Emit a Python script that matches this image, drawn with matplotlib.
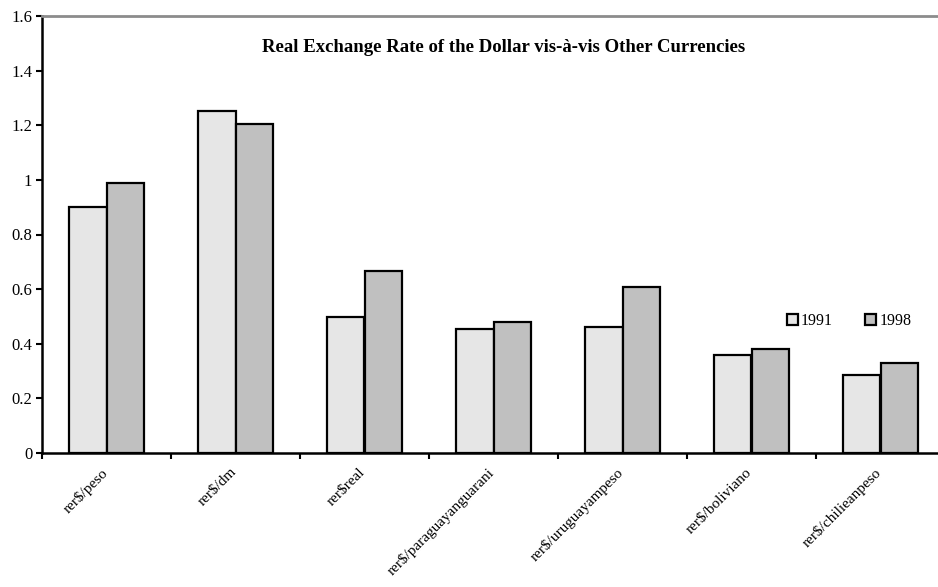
import numpy as np
import matplotlib.pyplot as plt
from matplotlib.ticker import FixedLocator, NullFormatter, FixedFormatter
from matplotlib.transforms import ScaledTranslation

plt.rcParams['font.family'] = ['Liberation Serif', 'DejaVu Serif']

currencies = ['rer$/peso', 'rer$/dm', 'rer$real', 'rer$/paraguayanguarani',
              'rer$/uruguayampeso', 'rer$/boliviano', 'rer$/chilieanpeso']
rer_1991 = [0.902, 1.253, 0.499, 0.455, 0.463, 0.360, 0.286]
rer_1998 = [0.990, 1.203, 0.668, 0.479, 0.609, 0.382, 0.330]
years = ['1991', '1998']
colors = ['#e6e6e6', '#c0c0c0']

fig = plt.figure(figsize=(9.38, 5.87), dpi=100)
ax = fig.add_axes([42 / 938, 1 - 453 / 587, 903 / 938, 437 / 587])

x = np.arange(len(currencies))
w = 0.287
ax.bar(x - w / 2, rer_1991, w, color=colors[0], edgecolor='black', linewidth=1.6, label=years[0])
ax.bar(x + w / 2, rer_1998, w, color=colors[1], edgecolor='black', linewidth=1.6, label=years[1])

ax.set_xlim(-0.5, len(currencies) - 0.5)
ax.set_ylim(0, 1.6)
ax.set_yticks(np.arange(0, 1.61, 0.2))
ax.set_yticklabels(['0', '0.2', '0.4', '0.6', '0.8', '1', '1.2', '1.4', '1.6'], fontsize=12)

# ticks sit on the category boundaries, labels in the middle
ax.xaxis.set_major_locator(FixedLocator(np.arange(len(currencies) + 1) - 0.5))
ax.xaxis.set_major_formatter(NullFormatter())
ax.xaxis.set_minor_locator(FixedLocator(x))
ax.xaxis.set_minor_formatter(FixedFormatter(currencies))
ax.tick_params(axis='x', which='minor', length=0, pad=9)
ax.tick_params(axis='x', which='major', length=4, width=1.5, direction='out')
ax.tick_params(axis='y', length=4, width=1.5, direction='out', pad=3)
shift = ScaledTranslation(-6 / 100, 0, fig.dpi_scale_trans)
for lbl in ax.xaxis.get_minorticklabels():
    lbl.set_rotation(45)
    lbl.set_ha('right')
    lbl.set_rotation_mode('anchor')
    lbl.set_fontsize(11)
    lbl.set_transform(lbl.get_transform() + shift)

ax.spines['right'].set_visible(False)
ax.spines['left'].set_linewidth(1.8)
ax.spines['bottom'].set_linewidth(1.8)
ax.spines['top'].set_color('#8c8c8c')
ax.spines['top'].set_linewidth(2)

fig.text(504 / 938, 1 - 47 / 587, 'Real Exchange Rate of the Dollar vis-à-vis Other Currencies',
         ha='center', va='center', fontsize=13.5, fontweight='bold')

ax.legend(loc='center', bbox_to_anchor=(849 / 938, 1 - 321 / 587), bbox_transform=fig.transFigure,
          ncol=2, frameon=False, fontsize=11.5, handlelength=0.7, handleheight=0.7,
          handletextpad=0.2, columnspacing=2.0)

fig.savefig('out.png', dpi=100)
